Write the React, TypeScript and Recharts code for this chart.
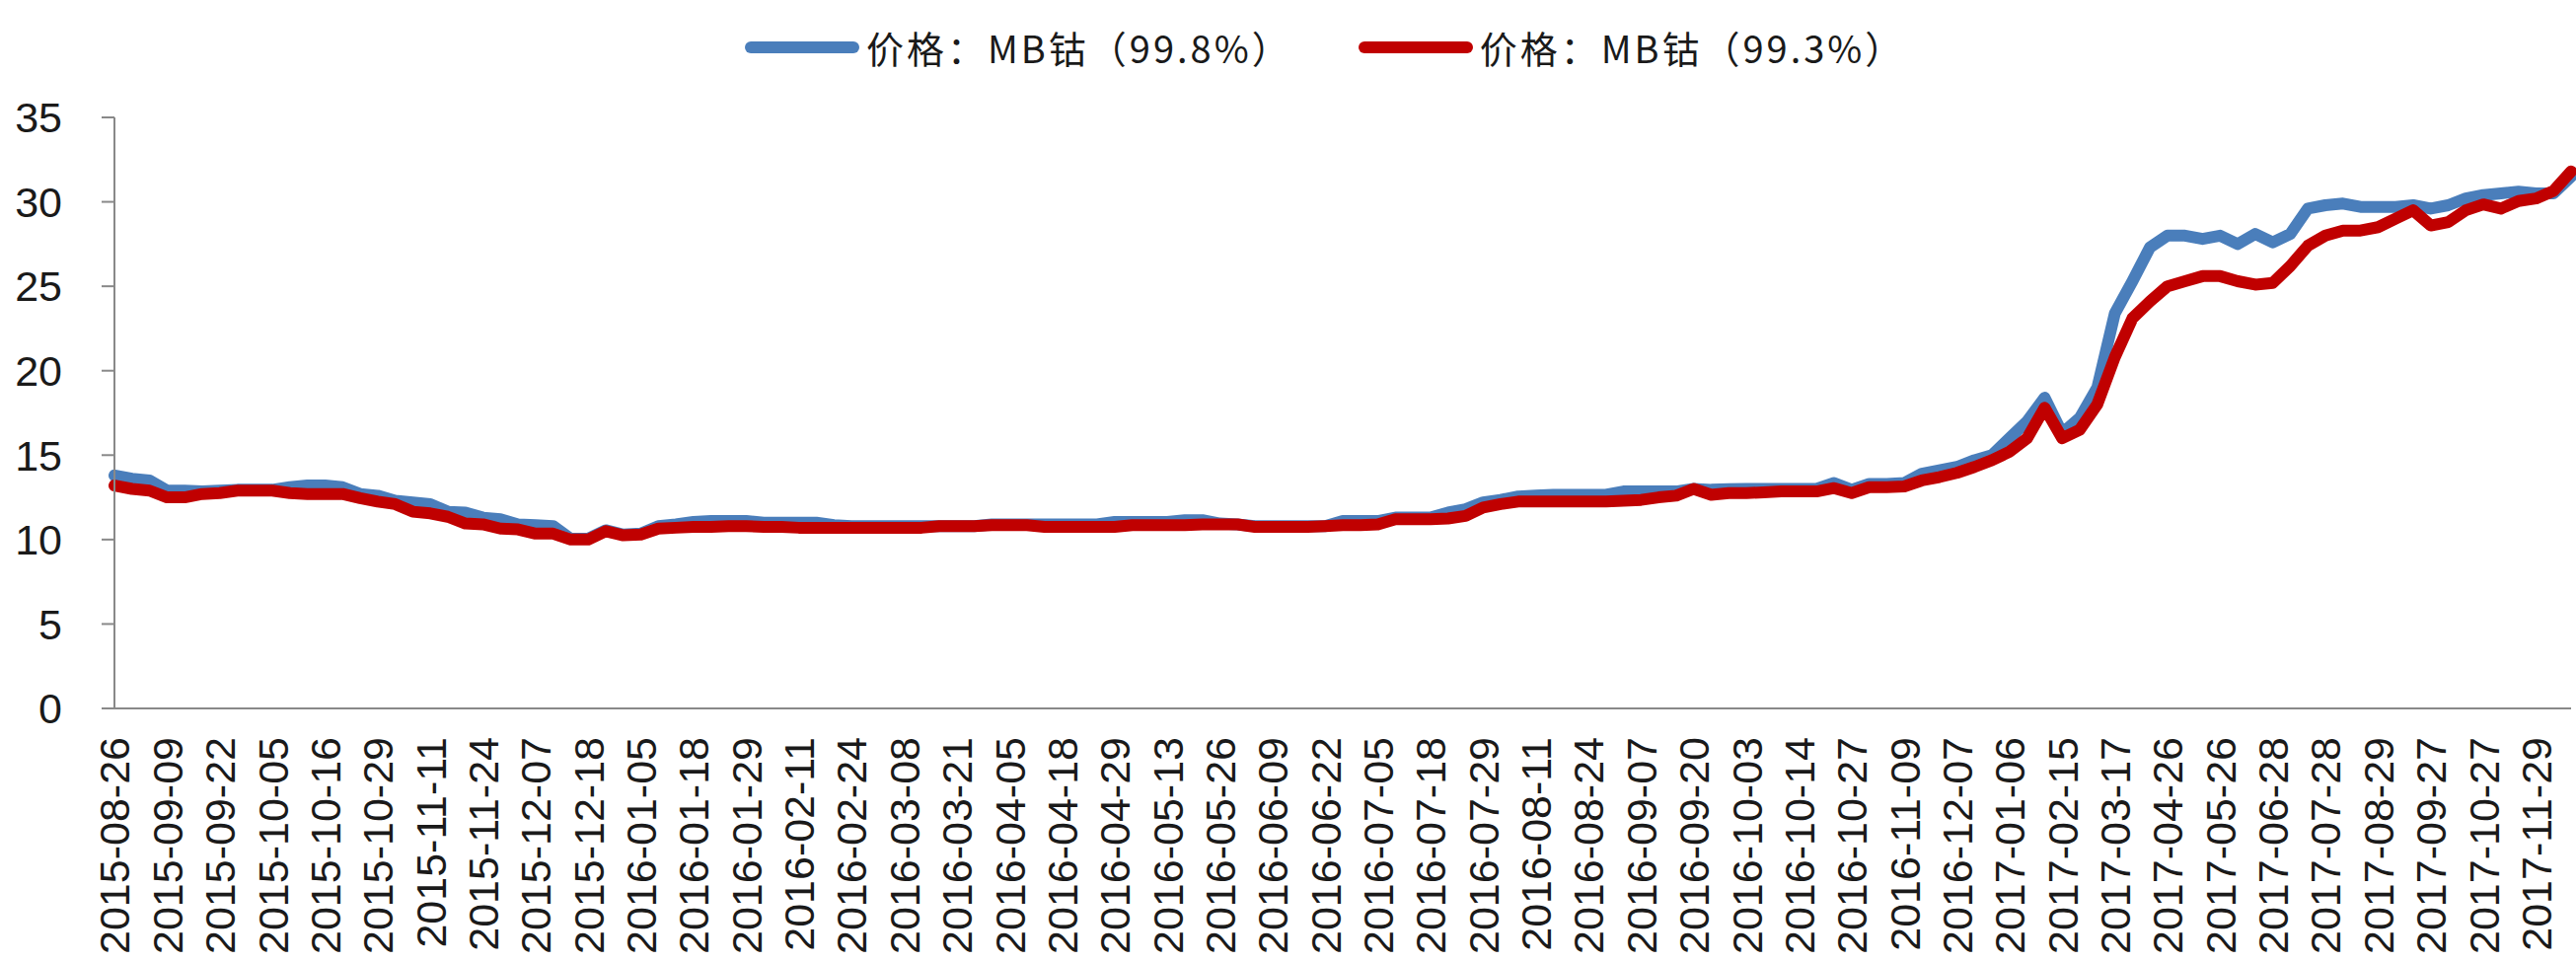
import { LineChart, Line, XAxis, YAxis, Legend } from 'recharts';

// tick labels along the date axis, one every third sample
const tickLabels = [
  '2015-08-26', '2015-09-09', '2015-09-22', '2015-10-05', '2015-10-16', '2015-10-29',
  '2015-11-11', '2015-11-24', '2015-12-07', '2015-12-18', '2016-01-05', '2016-01-18',
  '2016-01-29', '2016-02-11', '2016-02-24', '2016-03-08', '2016-03-21', '2016-04-05',
  '2016-04-18', '2016-04-29', '2016-05-13', '2016-05-26', '2016-06-09', '2016-06-22',
  '2016-07-05', '2016-07-18', '2016-07-29', '2016-08-11', '2016-08-24', '2016-09-07',
  '2016-09-20', '2016-10-03', '2016-10-14', '2016-10-27', '2016-11-09', '2016-12-07',
  '2017-01-06', '2017-02-15', '2017-03-17', '2017-04-26', '2017-05-26', '2017-06-28',
  '2017-07-28', '2017-08-29', '2017-09-27', '2017-10-27', '2017-11-29',
];
const STEP = 3;

// MB cobalt 99.8%
const cobalt998 = [
  13.8, 13.6, 13.5, 12.9, 12.9, 12.85, 12.9, 12.95, 12.95, 12.95,
  13.1, 13.2, 13.2, 13.1, 12.7, 12.6, 12.3, 12.2, 12.1, 11.65,
  11.6, 11.3, 11.2, 10.9, 10.85, 10.8, 10.05, 10.05, 10.55, 10.3,
  10.35, 10.8, 10.9, 11.05, 11.1, 11.1, 11.1, 11.0, 11.0, 11.0,
  11.0, 10.85, 10.8, 10.8, 10.8, 10.8, 10.8, 10.8, 10.8, 10.8,
  10.9, 10.9, 10.9, 10.9, 10.9, 10.9, 10.9, 11.05, 11.05, 11.05,
  11.05, 11.15, 11.15, 10.95, 10.9, 10.8, 10.8, 10.8, 10.8, 10.8,
  11.1, 11.1, 11.1, 11.3, 11.3, 11.3, 11.6, 11.8, 12.2, 12.35,
  12.55, 12.6, 12.65, 12.65, 12.65, 12.65, 12.85, 12.85, 12.85, 12.85,
  13.0, 12.95, 12.98, 13.0, 13.0, 13.0, 13.0, 13.0, 13.35, 12.95,
  13.3, 13.3, 13.35, 13.9, 14.1, 14.3, 14.7, 15.0, 16.0, 17.0,
  18.4, 16.3, 17.2, 19.0, 23.4, 25.3, 27.3, 28.0, 28.0, 27.8,
  28.0, 27.5, 28.1, 27.6, 28.1, 29.6, 29.8, 29.9, 29.7, 29.7,
  29.7, 29.8, 29.6, 29.8, 30.2, 30.4, 30.5, 30.6, 30.5, 30.5,
  31.5,
];

// MB cobalt 99.3%
const cobalt993 = [
  13.2, 13.0, 12.9, 12.5, 12.5, 12.7, 12.75, 12.9, 12.9, 12.9,
  12.75, 12.7, 12.7, 12.7, 12.45, 12.25, 12.1, 11.65, 11.55, 11.35,
  10.95, 10.9, 10.65, 10.6, 10.35, 10.35, 10.0, 10.0, 10.5, 10.25,
  10.3, 10.65, 10.7, 10.75, 10.75, 10.8, 10.8, 10.75, 10.75, 10.7,
  10.7, 10.7, 10.7, 10.7, 10.7, 10.7, 10.7, 10.8, 10.8, 10.8,
  10.85, 10.85, 10.85, 10.75, 10.75, 10.75, 10.75, 10.75, 10.85, 10.85,
  10.85, 10.85, 10.9, 10.9, 10.9, 10.75, 10.75, 10.75, 10.75, 10.8,
  10.85, 10.85, 10.9, 11.2, 11.2, 11.2, 11.25, 11.4, 11.9, 12.1,
  12.25, 12.25, 12.25, 12.25, 12.25, 12.25, 12.3, 12.35, 12.5, 12.6,
  13.0, 12.65, 12.75, 12.75, 12.8, 12.85, 12.85, 12.85, 13.05, 12.75,
  13.1, 13.1, 13.15, 13.5, 13.7, 13.95, 14.3, 14.7, 15.2, 16.0,
  17.8, 16.0, 16.5, 18.0, 20.8, 23.1, 24.1, 25.0, 25.3, 25.6,
  25.6, 25.3, 25.1, 25.2, 26.2, 27.4, 28.0, 28.3, 28.3, 28.5,
  29.0, 29.5, 28.6, 28.8, 29.5, 29.85, 29.6, 30.05, 30.2, 30.65,
  31.8,
];

const yTicks = [0, 5, 10, 15, 20, 25, 30, 35];

const series = [
  { key: 'high', name: '价格：MB钴（99.8%）', color: '#4A7EBB' },
  { key: 'low', name: '价格：MB钴（99.3%）', color: '#C00000' },
];

const data = cobalt998.map((v, k) => ({ k, high: v, low: cobalt993[k] }));
const xTicks = tickLabels.map((_, i) => i * STEP);

const AXIS = '#898989';
const LATIN = '"Liberation Sans", Arial, sans-serif';

function DateTick({ x, y, payload }: any) {
  return (
    <text
      x={x}
      y={y}
      transform={`rotate(-90 ${x} ${y})`}
      textAnchor="end"
      dy="0.36em"
      fill="#1a1a1a"
      fontSize={43}
      fontFamily={LATIN}
    >
      {tickLabels[Math.round(payload.value / STEP)]}
    </text>
  );
}

// legend keeps the series order (the default sorts by name)
function LegendRow() {
  return (
    <div
      style={{
        display: 'flex',
        alignItems: 'center',
        whiteSpace: 'nowrap',
        fontFamily: '"Noto Sans CJK SC", sans-serif',
        fontSize: 38,
        letterSpacing: 3,
        color: '#1a1a1a',
      }}
    >
      {series.map((s) => (
        <div key={s.key} style={{ display: 'flex', alignItems: 'center', marginRight: 66 }}>
          <svg width={118} height={16}>
            <line x1={7} y1={8} x2={111} y2={8} stroke={s.color} strokeWidth={12} strokeLinecap="round" />
          </svg>
          <span style={{ marginLeft: 6 }}>{s.name}</span>
        </div>
      ))}
    </div>
  );
}

export default function App() {
  return (
    <div style={{ position: 'absolute', left: 0, top: 0, width: 2611, height: 975, background: '#fff' }}>
      <LineChart width={2611} height={975} data={data} margin={{ top: 119, right: 5, left: 0, bottom: 7 }}>
        <Legend
          content={<LegendRow />}
          layout="horizontal"
          verticalAlign="middle"
          align="center"
          wrapperStyle={{ top: 20, left: 754, width: 1300, height: 50 }}
        />
        <XAxis
          dataKey="k"
          type="number"
          domain={[0, data.length - 1]}
          ticks={xTicks}
          interval={0}
          tick={<DateTick />}
          tickLine={false}
          tickSize={0}
          tickMargin={29}
          axisLine={{ stroke: AXIS, strokeWidth: 2 }}
          height={250}
        />
        <YAxis
          domain={[0, 35]}
          ticks={yTicks}
          interval={0}
          width={116}
          tickSize={13}
          tickMargin={40}
          tick={{ fill: '#1a1a1a', fontSize: 43, fontFamily: LATIN }}
          tickLine={{ stroke: AXIS, strokeWidth: 2 }}
          axisLine={{ stroke: AXIS, strokeWidth: 2 }}
        />
        {series.map((s) => (
          <Line
            key={s.key}
            dataKey={s.key}
            name={s.name}
            type="linear"
            stroke={s.color}
            strokeWidth={12}
            strokeLinejoin="round"
            strokeLinecap="round"
            dot={false}
            activeDot={false}
            isAnimationActive={false}
          />
        ))}
      </LineChart>
    </div>
  );
}
